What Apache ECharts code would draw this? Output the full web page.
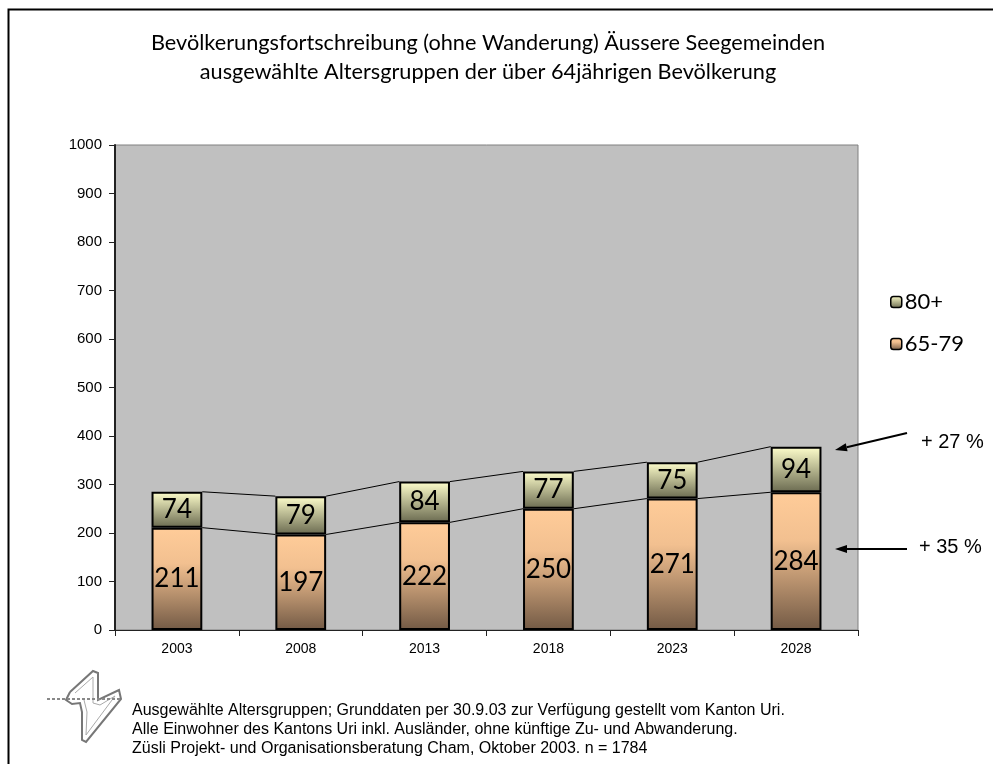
<!DOCTYPE html>
<html>
<head>
<meta charset="utf-8">
<script src="https://cdn.jsdelivr.net/npm/echarts@6/dist/echarts.min.js"></script>
<style>
html,body{margin:0;padding:0;background:#fff;}
#chart{width:993px;height:764px;}
</style>
</head>
<body>
<div id="chart"></div>
<script>
// Jahre der Fortschreibung
const years = ['2003', '2008', '2013', '2018', '2023', '2028'];
// Altersgruppe 65-79
const age65to79 = [211, 197, 222, 250, 271, 284];
// Altersgruppe 80+
const age80plus = [74, 79, 84, 77, 75, 94];
// Achsenbeschriftung y
const yTicks = [0, 100, 200, 300, 400, 500, 600, 700, 800, 900, 1000];
// Veränderung 2003-2028
const changeLabels = ['+ 27 %', '+ 35 %'];

const totals = age65to79.map((v, i) => v + age80plus[i]);
const BAR_RATIO = 0.41;

const chart = echarts.init(document.getElementById('chart'));
const LG = echarts.graphic.LinearGradient;
const titleFont = 'Lato, "Noto Sans", sans-serif';
const arial = '"Liberation Sans", Arial, sans-serif';

// Verbindungslinien zwischen den Säulenkanten
function connectorData(tops) {
  const out = [];
  for (let i = 0; i < tops.length - 1; i++) out.push([i, tops[i], tops[i + 1]]);
  return out;
}
function connectorRender(params, api) {
  const i = api.value(0);
  const p1 = api.coord([i, api.value(1)]);
  const p2 = api.coord([i + 1, api.value(2)]);
  const hw = api.size([1, 0])[0] * BAR_RATIO / 2;
  return {
    type: 'line',
    shape: { x1: p1[0] + hw, y1: p1[1], x2: p2[0] - hw, y2: p2[1] },
    style: { stroke: '#000', lineWidth: 1 }
  };
}

const barLabel = {
  show: true,
  position: 'inside',
  color: '#000',
  fontSize: 26,
  fontFamily: titleFont
};

// Pfeile neben der letzten Säule
function arrow(x1, y1, x2, y2) {
  const ang = Math.atan2(y2 - y1, x2 - x1);
  const L = 12, W = 4;
  const bx = x2 - L * Math.cos(ang), by = y2 - L * Math.sin(ang);
  const nx = -Math.sin(ang) * W, ny = Math.cos(ang) * W;
  return [
    { type: 'line', shape: { x1: x1, y1: y1, x2: bx, y2: by }, style: { stroke: '#000', lineWidth: 2 } },
    { type: 'polygon', shape: { points: [[x2, y2], [bx + nx, by + ny], [bx - nx, by - ny]] }, style: { fill: '#000' } }
  ];
}

// Logo (stilisierte Ziffer)
const logoPts = [[70, 692], [93, 671], [98, 673], [98, 700], [119, 690], [121, 699], [86, 742], [82, 740], [82, 712], [80, 703], [72, 704], [66, 700], [70, 692]];
const logoInner = [[75, 693], [93, 677], [93, 703], [100, 705], [115, 696], [86, 735], [87, 712], [84, 700]];

const footFont = '16px "Liberation Sans", Arial, sans-serif';

chart.setOption({
  animation: false,
  backgroundColor: '#fff',
  title: {
    text: 'Bevölkerungsfortschreibung (ohne Wanderung) Äussere Seegemeinden\nausgewählte Altersgruppen der über 64jährigen Bevölkerung',
    left: 483,
    textAlign: 'center',
    top: 24,
    textStyle: { fontFamily: titleFont, fontSize: 21.7, fontWeight: 'normal', lineHeight: 29, color: '#000' }
  },
  legend: {
    orient: 'vertical',
    left: 885,
    top: 286,
    itemWidth: 11,
    itemHeight: 11,
    itemGap: 20,
    data: ['80+', '65-79'],
    itemStyle: { borderColor: '#000', borderWidth: 1.5 },
    textStyle: { fontFamily: titleFont, fontSize: 22, color: '#000', padding: [0, 0, 0, -2] }
  },
  grid: {
    left: 115, right: 135, top: 145, bottom: 134,
    show: true, backgroundColor: '#C0C0C0', borderColor: '#808080', borderWidth: 1
  },
  xAxis: {
    type: 'category',
    data: years,
    axisLine: { lineStyle: { color: '#222', width: 1 } },
    axisTick: { show: true, alignWithLabel: false, length: 6, lineStyle: { color: '#222' } },
    axisLabel: { fontFamily: arial, fontSize: 14, color: '#000', margin: 12 }
  },
  yAxis: {
    type: 'value',
    min: yTicks[0],
    max: yTicks[yTicks.length - 1],
    interval: yTicks[1] - yTicks[0],
    splitLine: { show: false },
    axisLine: { show: true, lineStyle: { color: '#222', width: 2 } },
    axisTick: { show: true, length: 6, lineStyle: { color: '#222' } },
    axisLabel: { fontFamily: arial, fontSize: 15, color: '#000', margin: 13, formatter: v => String(v) }
  },
  series: [
    {
      name: '65-79',
      type: 'bar',
      stack: 'total',
      barWidth: (BAR_RATIO * 100) + '%',
      data: age65to79,
      itemStyle: {
        color: new LG(0, 0, 0, 1, [
          { offset: 0, color: '#FFCC99' },
          { offset: 0.35, color: '#F2C090' },
          { offset: 1, color: '#735A45' }
        ]),
        borderColor: '#000', borderWidth: 2
      },
      label: barLabel
    },
    {
      name: '80+',
      type: 'bar',
      stack: 'total',
      data: age80plus,
      itemStyle: {
        color: new LG(0, 0, 0, 1, [
          { offset: 0, color: '#FFFFCC' },
          { offset: 1, color: '#6A6A50' }
        ]),
        borderColor: '#000', borderWidth: 2
      },
      label: barLabel
    },
    {
      type: 'custom',
      renderItem: connectorRender,
      data: connectorData(age65to79),
      silent: true,
      z: 1
    },
    {
      type: 'custom',
      renderItem: connectorRender,
      data: connectorData(totals),
      silent: true,
      z: 1
    }
  ],
  graphic: [
    // Rahmen links und oben
    { type: 'polyline', shape: { points: [[8.5, 764], [8.5, 9.5], [993, 9.5]] }, style: { stroke: '#000', lineWidth: 2, fill: null } },
    ...arrow(907, 433, 835, 450),
    ...arrow(907, 549, 835, 549),
    { type: 'text', left: 921, top: 432, style: { text: changeLabels[0], font: '20px "Liberation Sans", Arial, sans-serif', fill: '#000' } },
    { type: 'text', left: 919, top: 537, style: { text: changeLabels[1], font: '20px "Liberation Sans", Arial, sans-serif', fill: '#000' } },
    // Logo
    { type: 'polyline', shape: { points: logoPts }, style: { stroke: '#777', lineWidth: 2, fill: null } },
    { type: 'polyline', shape: { points: logoInner }, style: { stroke: '#aaa', lineWidth: 1, fill: null } },
    { type: 'line', shape: { x1: 47, y1: 699, x2: 122, y2: 699 }, style: { stroke: '#888', lineWidth: 2, lineDash: [3, 2] } },
    // Quellenangaben
    { type: 'text', left: 132, top: 703, style: { text: 'Ausgewählte Altersgruppen; Grunddaten per 30.9.03 zur Verfügung gestellt vom Kanton Uri.', font: footFont, fill: '#000' } },
    { type: 'text', left: 132, top: 722, style: { text: 'Alle Einwohner des Kantons Uri inkl. Ausländer, ohne künftige Zu- und Abwanderung.', font: footFont, fill: '#000' } },
    { type: 'text', left: 132, top: 741, style: { text: 'Züsli Projekt- und Organisationsberatung Cham, Oktober 2003. n = 1784', font: footFont, fill: '#000' } }
  ]
});
</script>
</body>
</html>
